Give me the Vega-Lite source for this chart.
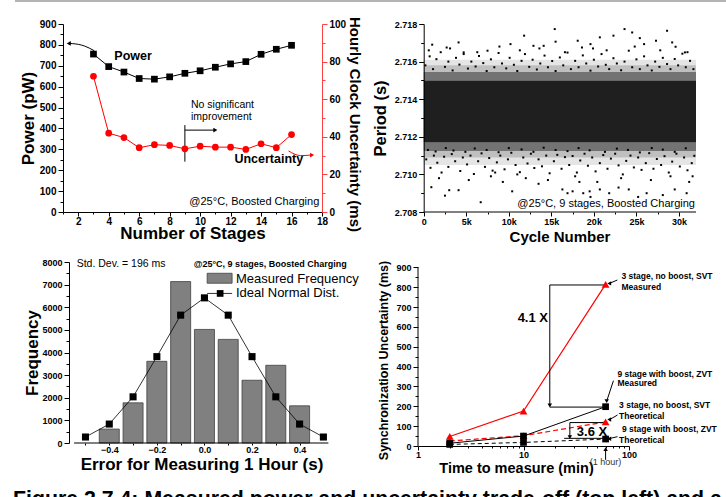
{
"$schema": "https://vega.github.io/schema/vega-lite/v6.json",
"padding": {"left": 13, "top": 0, "right": 0, "bottom": 5},
"columns": 2,
"align": "none",
"bounds": "flush",
"spacing": {"row": 50, "column": 96},
"title": {"text": "Figure 2.7.4: Measured power and uncertainty trade-off (top left) and a", "orient": "bottom", "anchor": "start", "frame": "bounds", "fontSize": 21.3, "fontWeight": "bold", "font": "Liberation Sans", "color": "#000", "offset": 14, "dx": -1},
"datasets": {
"tl_power": [{"x":3,"y":756},{"x":4,"y":696},{"x":5,"y":670},{"x":6,"y":639},{"x":7,"y":636},{"x":8,"y":647},{"x":9,"y":664},{"x":10,"y":676},{"x":11,"y":693},{"x":12,"y":709},{"x":13,"y":720},{"x":14,"y":755},{"x":15,"y":779},{"x":16,"y":798}],
"tl_unc": [{"x":3,"y":72.2},{"x":4,"y":41.9},{"x":5,"y":39.6},{"x":6,"y":34.2},{"x":7,"y":35.8},{"x":8,"y":35.4},{"x":9,"y":33.6},{"x":10,"y":35.0},{"x":11,"y":34.5},{"x":12,"y":34.5},{"x":13,"y":33.3},{"x":14,"y":36.3},{"x":15,"y":34.2},{"x":16,"y":41.2}],
"bl_bars": [{"x":-0.4,"y":616},{"x":-0.3,"y":1776},{"x":-0.2,"y":3611},{"x":-0.1,"y":7134},{"x":0,"y":5020},{"x":0.1,"y":4580},{"x":0.2,"y":2774},{"x":0.3,"y":3435},{"x":0.4,"y":1644}],
"bl_norm": [{"x":-0.5,"y":264},{"x":-0.4,"y":837},{"x":-0.3,"y":2040},{"x":-0.2,"y":3817},{"x":-0.1,"y":5651},{"x":0,"y":6415},{"x":0.1,"y":5651},{"x":0.2,"y":3817},{"x":0.3,"y":2040},{"x":0.4,"y":837},{"x":0.5,"y":264}],
"br_svt_m": [{"x":2,"y":48},{"x":10,"y":176},{"x":60,"y":814}],
"br_svt_t": [{"x":2,"y":25},{"x":10,"y":52},{"x":60,"y":121}],
"br_zvt_m": [{"x":2,"y":14},{"x":10,"y":50},{"x":60,"y":198}],
"br_zvt_t": [{"x":2,"y":8},{"x":10,"y":18},{"x":60,"y":35}],
"tr_pts": [
{"x":900,"y":2.70932},{"x":2500,"y":2.70887},{"x":3000,"y":2.70916},{"x":4100,"y":2.70916},{"x":6700,"y":2.70852},{"x":8400,"y":2.7101},{"x":10400,"y":2.7091},{"x":11000,"y":2.7100},{"x":13500,"y":2.7095},{"x":16300,"y":2.7092},{"x":16900,"y":2.7090},{"x":17500,"y":2.7091},{"x":18300,"y":2.7096},{"x":18750,"y":2.7090},{"x":19500,"y":2.7091},{"x":19600,"y":2.7088},{"x":20700,"y":2.7092},{"x":21800,"y":2.7090},{"x":22900,"y":2.7093},{"x":24100,"y":2.7092},{"x":25200,"y":2.7088},{"x":26200,"y":2.7090},{"x":28100,"y":2.7089},{"x":29500,"y":2.7092},{"x":30900,"y":2.7090},{"x":31600,"y":2.7099},
{"x":1000,"y":2.7169},{"x":2700,"y":2.71675},{"x":4100,"y":2.71702},{"x":4700,"y":2.71649},{"x":7500,"y":2.71658},{"x":10200,"y":2.71693},{"x":11800,"y":2.71738},{"x":12900,"y":2.71684},{"x":14100,"y":2.71684},{"x":15400,"y":2.71773},{"x":15500,"y":2.71706},{"x":18100,"y":2.71711},{"x":18600,"y":2.71675},{"x":19600,"y":2.71693},{"x":20700,"y":2.71729},{"x":22300,"y":2.71738},{"x":23600,"y":2.71773},{"x":24500,"y":2.71755},{"x":25400,"y":2.71725},{"x":25900,"y":2.71693},{"x":27300,"y":2.71711},{"x":28600,"y":2.71764},{"x":29200,"y":2.71702},{"x":29600,"y":2.71679},{"x":30700,"y":2.71649},
{"x":1800,"y":2.7098},{"x":5300,"y":2.7097},{"x":7900,"y":2.7099},{"x":9300,"y":2.7096},{"x":12000,"y":2.7098},{"x":14600,"y":2.7097},{"x":17800,"y":2.7099},{"x":20400,"y":2.7096},{"x":23200,"y":2.7098},{"x":26700,"y":2.7097},{"x":29000,"y":2.7099},{"x":31200,"y":2.7096},
{"x":600,"y":2.7166},{"x":3100,"y":2.7167},{"x":6300,"y":2.7165},{"x":8900,"y":2.7168},{"x":11300,"y":2.7166},{"x":13600,"y":2.7167},{"x":16600,"y":2.7165},{"x":19900,"y":2.7167},{"x":21500,"y":2.7166},{"x":24800,"y":2.7168},{"x":27800,"y":2.7166},{"x":31000,"y":2.7165},
{"x":300,"y":2.7108},{"x":800,"y":2.71035},{"x":1200,"y":2.7110},{"x":1600,"y":2.71062},{"x":2100,"y":2.7101},{"x":2400,"y":2.71094},{"x":2900,"y":2.7104},{"x":3300,"y":2.71108},{"x":3700,"y":2.7107},{"x":4300,"y":2.71018},{"x":4600,"y":2.7109},{"x":5100,"y":2.71053},{"x":5500,"y":2.7110},{"x":5900,"y":2.71002},{"x":6400,"y":2.7107},{"x":6800,"y":2.71112},{"x":7200,"y":2.7104},{"x":7700,"y":2.71087},{"x":8100,"y":2.7102},{"x":8600,"y":2.71064},{"x":9000,"y":2.7110},{"x":9500,"y":2.71027},{"x":9900,"y":2.7108},{"x":10300,"y":2.71115},{"x":10800,"y":2.7105},{"x":11300,"y":2.71012},{"x":11700,"y":2.7109},{"x":12200,"y":2.71058},{"x":12600,"y":2.7111},{"x":13000,"y":2.71034},{"x":13500,"y":2.7108},{"x":13900,"y":2.71043},{"x":14400,"y":2.7110},{"x":14800,"y":2.71006},{"x":15300,"y":2.7107},{"x":15700,"y":2.71104},{"x":16200,"y":2.7103},{"x":16600,"y":2.71092},{"x":17100,"y":2.7105},{"x":17500,"y":2.71098},{"x":18000,"y":2.7101},{"x":18400,"y":2.71074},{"x":18900,"y":2.7111},{"x":19300,"y":2.71046},{"x":19800,"y":2.7109},{"x":20200,"y":2.71016},{"x":20700,"y":2.7106},{"x":21100,"y":2.71103},{"x":21600,"y":2.7103},{"x":22000,"y":2.71084},{"x":22500,"y":2.7111},{"x":22900,"y":2.71048},{"x":23400,"y":2.7100},{"x":23800,"y":2.71072},{"x":24300,"y":2.7110},{"x":24700,"y":2.71037},{"x":25200,"y":2.7109},{"x":25600,"y":2.71024},{"x":26100,"y":2.7106},{"x":26500,"y":2.71113},{"x":27000,"y":2.7103},{"x":27400,"y":2.71082},{"x":27900,"y":2.7105},{"x":28300,"y":2.71097},{"x":28800,"y":2.7101},{"x":29200,"y":2.71068},{"x":29700,"y":2.7111},{"x":30100,"y":2.71042},{"x":30600,"y":2.7109},{"x":31000,"y":2.71022},{"x":31500,"y":2.7106},{"x":31800,"y":2.71099},
{"x":500,"y":2.7113},{"x":1400,"y":2.71122},{"x":2600,"y":2.7114},{"x":3500,"y":2.71127},{"x":4900,"y":2.7112},{"x":6000,"y":2.71138},{"x":7400,"y":2.7113},{"x":8800,"y":2.71118},{"x":10000,"y":2.7114},{"x":11500,"y":2.71133},{"x":12900,"y":2.7112},{"x":14100,"y":2.71142},{"x":15500,"y":2.7113},{"x":16900,"y":2.71124},{"x":18200,"y":2.7114},{"x":19500,"y":2.71128},{"x":21300,"y":2.7112},{"x":22700,"y":2.71137},{"x":24000,"y":2.7113},{"x":25400,"y":2.71117},{"x":26800,"y":2.7114},{"x":28100,"y":2.71132},{"x":29500,"y":2.7112},{"x":30800,"y":2.71139},
{"x":200,"y":2.7158},{"x":700,"y":2.71628},{"x":1100,"y":2.7156},{"x":1500,"y":2.71613},{"x":2000,"y":2.7165},{"x":2500,"y":2.71572},{"x":2900,"y":2.7160},{"x":3400,"y":2.71553},{"x":3800,"y":2.7162},{"x":4200,"y":2.71584},{"x":4700,"y":2.7164},{"x":5200,"y":2.71563},{"x":5600,"y":2.7160},{"x":6100,"y":2.71574},{"x":6500,"y":2.7163},{"x":7000,"y":2.71592},{"x":7400,"y":2.7155},{"x":7900,"y":2.71612},{"x":8300,"y":2.7157},{"x":8800,"y":2.71646},{"x":9200,"y":2.7159},{"x":9700,"y":2.71564},{"x":10100,"y":2.7162},{"x":10600,"y":2.71583},{"x":11000,"y":2.7155},{"x":11500,"y":2.71604},{"x":11900,"y":2.7164},{"x":12400,"y":2.71572},{"x":12800,"y":2.7161},{"x":13300,"y":2.71558},{"x":13700,"y":2.7159},{"x":14200,"y":2.71632},{"x":14600,"y":2.7157},{"x":15100,"y":2.71603},{"x":15500,"y":2.7155},{"x":16000,"y":2.71622},{"x":16400,"y":2.7158},{"x":16900,"y":2.71648},{"x":17300,"y":2.7156},{"x":17800,"y":2.71604},{"x":18200,"y":2.7157},{"x":18700,"y":2.71633},{"x":19100,"y":2.7159},{"x":19600,"y":2.71552},{"x":20000,"y":2.7161},{"x":20500,"y":2.71574},{"x":20900,"y":2.7164},{"x":21400,"y":2.71583},{"x":21800,"y":2.7156},{"x":22300,"y":2.71618},{"x":22700,"y":2.7159},{"x":23200,"y":2.71554},{"x":23600,"y":2.7160},{"x":24100,"y":2.71658},{"x":24500,"y":2.7157},{"x":25000,"y":2.71612},{"x":25400,"y":2.7156},{"x":25900,"y":2.71628},{"x":26300,"y":2.7158},{"x":26800,"y":2.71553},{"x":27200,"y":2.7160},{"x":27700,"y":2.71572},{"x":28100,"y":2.7162},{"x":28600,"y":2.71587},{"x":29000,"y":2.7156},{"x":29500,"y":2.71614},{"x":29900,"y":2.7158},{"x":30400,"y":2.71642},{"x":30800,"y":2.7157},{"x":31300,"y":2.71604},{"x":31700,"y":2.7156}
]
},
"concat": [
{
 "width": 259, "height": 188,
 "layer": [
  {
   "encoding": {
    "x": {"field":"x","type":"quantitative","scale":{"domain":[1,18],"nice":false,"zero":false},"axis":{"title":"Number of Stages","titleFontSize":17,"titlePadding":-1,"labelFontSize":10,"labelPadding":0,"values":[1,2,3,4,5,6,7,8,9,10,11,12,13,14,15,16,17,18],"labelExpr":"datum.value % 2 == 0 ? datum.label : ''","tickSize":{"condition":{"test":"datum.value % 2 == 0","value":4},"value":2}}},
    "y": {"field":"y","type":"quantitative","scale":{"domain":[0,900],"nice":false},"axis":{"title":"Power (pW)","titleFontSize":17,"titlePadding":2,"labelFontSize":10,"values":[0,50,100,150,200,250,300,350,400,450,500,550,600,650,700,750,800,850,900],"labelExpr":"datum.value % 100 == 0 ? datum.label : ''","tickSize":{"condition":{"test":"datum.value % 100 == 0","value":5},"value":3}}}
   },
   "layer": [
    {"data":{"values":[{"x":-2.15,"x2":44.58,"y":1010}]},"mark":{"type":"rule","color":"#b4b4b4","strokeWidth":2},"encoding":{"x2":{"field":"x2"}}},
    {"data":{"name":"tl_power"},"mark":{"type":"line","color":"#000","strokeWidth":1}},
    {"data":{"name":"tl_power"},"mark":{"type":"square","color":"#000","size":45,"opacity":1}},
    {"data":{"values":[{"x":3.05,"y":772},{"x":2.4,"y":795},{"x":1.64,"y":806},{"x":1.4,"y":807}]},"mark":{"type":"line","color":"#000","strokeWidth":1,"interpolate":"monotone"}},
    {"data":{"values":[{"x":1.38,"y":807}]},"mark":{"type":"point","shape":"triangle-left","filled":true,"color":"#000","size":22,"opacity":1}},
    {"data":{"values":[{"x":9,"y":416,"x2":9,"y2":241},{"x":9,"y":392,"x2":10.95,"y2":392}]},"mark":{"type":"rule","color":"#000","strokeWidth":1},"encoding":{"x2":{"field":"x2"},"y2":{"field":"y2"}}},
    {"data":{"values":[{"x":11.0,"y":392}]},"mark":{"type":"point","shape":"triangle-right","filled":true,"color":"#000","size":22,"opacity":1}},
    {"data":{"values":[{"x":4.37,"y":747,"t":"Power"},{"x":12.25,"y":252,"t":"Uncertainty"}]},"mark":{"type":"text","align":"left","baseline":"middle","fontSize":12.5,"fontWeight":"bold","color":"#000"},"encoding":{"text":{"field":"t"}}},
    {"data":{"values":[{"x":9.4,"y":512,"t":"No significant"},{"x":9.4,"y":453,"t":"improvement"}]},"mark":{"type":"text","align":"left","baseline":"middle","fontSize":10.5,"color":"#000"},"encoding":{"text":{"field":"t"}}},
    {"data":{"values":[{"x":17.82,"y":49,"t":"@25°C, Boosted Charging"}]},"mark":{"type":"text","align":"right","baseline":"middle","fontSize":11,"color":"#000"},"encoding":{"text":{"field":"t"}}}
   ]
  },
  {
   "encoding": {
    "x": {"field":"x","type":"quantitative","scale":{"domain":[1,18],"nice":false,"zero":false},"axis":{"title":"Number of Stages","titleFontSize":17,"titlePadding":-1,"labelFontSize":10,"labelPadding":0,"values":[1,2,3,4,5,6,7,8,9,10,11,12,13,14,15,16,17,18],"labelExpr":"datum.value % 2 == 0 ? datum.label : ''","tickSize":{"condition":{"test":"datum.value % 2 == 0","value":4},"value":2}}},
    "y": {"field":"y","type":"quantitative","scale":{"domain":[0,100],"nice":false},"axis":{"orient":"right","title":"Hourly Clock Uncertainty (ms)","titleFontSize":15,"titlePadding":1,"titleY":100,"labelFontSize":10,"values":[0,10,20,30,40,50,60,70,80,90,100],"labelExpr":"datum.value % 20 == 0 ? datum.label : ''","tickSize":{"condition":{"test":"datum.value % 20 == 0","value":5},"value":3},"domainColor":"#ff4040","tickColor":"#ff4040"}}
   },
   "layer": [
    {"data":{"name":"tl_unc"},"mark":{"type":"line","color":"#ff0000","strokeWidth":1}},
    {"data":{"name":"tl_unc"},"mark":{"type":"circle","color":"#ff0000","size":45,"opacity":1}},
    {"data":{"values":[{"x":15.8,"y":32.5},{"x":16.6,"y":30.0},{"x":17.3,"y":30.3}]},"mark":{"type":"line","color":"#ff0000","strokeWidth":1,"interpolate":"monotone"}},
    {"data":{"values":[{"x":17.35,"y":30.3}]},"mark":{"type":"point","shape":"triangle-right","filled":true,"color":"#ff0000","size":22,"opacity":1}}
   ]
  }
 ],
 "resolve": {"scale": {"y": "independent"}}
},
{
 "width": 278, "height": 188,
 "encoding": {
  "x": {"field":"x","type":"quantitative","scale":{"domain":[-668,32000],"nice":false,"zero":false},"axis":{"title":"Cycle Number","titleFontSize":15,"titlePadding":3,"titleX":141.5,"labelFontSize":9,"labelPadding":1,"domain":false,"values":[0,2500,5000,7500,10000,12500,15000,17500,20000,22500,25000,27500,30000],"labelExpr":"datum.value % 5000 == 0 ? (datum.value == 0 ? '0' : datum.value/1000 + 'k') : ''","tickSize":{"condition":{"test":"datum.value % 5000 == 0","value":4},"value":2}}},
  "y": {"field":"y","type":"quantitative","scale":{"domain":[2.708,2.718],"nice":false,"zero":false},"axis":{"title":"Period (s)","titleFontSize":16.5,"titlePadding":6,"labelFontSize":9,"offset":-5.7,"format":".3f","values":[2.708,2.709,2.71,2.711,2.712,2.713,2.714,2.715,2.716,2.717,2.718],"labelExpr":"round(datum.value*1000) % 2 == 0 ? datum.label : ''","tickSize":{"condition":{"test":"round(datum.value*1000) % 2 == 0","value":5},"value":3}}}
 },
 "layer": [
  {"data":{"values":[{"x":0,"x2":32000,"y":2.7105,"y2":2.7109,"d":0.1},{"x":0,"x2":32000,"y":2.7109,"y2":2.71125,"d":0.25},{"x":0,"x2":32000,"y":2.71125,"y2":2.7117,"d":0.55},{"x":0,"x2":32000,"y":2.7117,"y2":2.715,"d":0.88},{"x":0,"x2":32000,"y":2.715,"y2":2.71545,"d":0.55},{"x":0,"x2":32000,"y":2.71545,"y2":2.7158,"d":0.25},{"x":0,"x2":32000,"y":2.7158,"y2":2.7161,"d":0.1}]},"mark":{"type":"rect","color":"#000"},"encoding":{"x2":{"field":"x2"},"y2":{"field":"y2"},"opacity":{"field":"d","type":"quantitative","scale":{"domain":[0,1],"range":[0,1]},"legend":null}}},
  {"data":{"name":"tr_pts"},"mark":{"type":"square","size":4,"color":"#000","opacity":1}},
  {"data":{"values":[{"x":0,"x2":32000,"y":2.708}]},"mark":{"type":"rule","color":"#000","strokeWidth":1},"encoding":{"x2":{"field":"x2"}}},
  {"data":{"values":[{"x":31880,"y":2.70843,"t":"@25°C, 9 stages, Boosted Charging"}]},"mark":{"type":"text","align":"right","baseline":"middle","fontSize":11,"color":"#000"},"encoding":{"text":{"field":"t"}}}
 ]
},
{
 "width": 248, "height": 181,
 "encoding": {
  "x": {"field":"x","type":"quantitative","scale":{"domain":[-0.5735,0.4269],"nice":false,"zero":false},"axis":{"title":"Error for Measuring 1 Hour (s)","titleFontSize":17,"titlePadding":2,"titleX":138.5,"labelFontSize":9,"labelPadding":0,"domain":false,"tickSize":2,"values":[-0.5,-0.4,-0.3,-0.2,-0.1,0,0.1,0.2,0.3,0.4],"format":".1f","labelExpr":"abs(round(datum.value*10)) % 2 == 0 ? datum.label : ''"}},
  "y": {"field":"y","type":"quantitative","scale":{"domain":[0,8000],"nice":false},"axis":{"title":"Frequency","titleFontSize":17,"titlePadding":0,"labelFontSize":9,"offset":-6,"format":"d","values":[0,500,1000,1500,2000,2500,3000,3500,4000,4500,5000,5500,6000,6500,7000,7500,8000],"labelExpr":"datum.value % 1000 == 0 ? datum.label : ''","tickSize":{"condition":{"test":"datum.value % 1000 == 0","value":5},"value":3}}}
 },
 "layer": [
  {"data":{"name":"bl_bars"},"mark":{"type":"bar","orient":"vertical","size":20,"fill":"#808080","stroke":"#404040","strokeWidth":0.8}},
  {"data":{"name":"bl_norm"},"mark":{"type":"line","color":"#000","strokeWidth":0.8}},
  {"data":{"name":"bl_norm"},"mark":{"type":"square","color":"#000","size":50,"opacity":1}},
  {"data":{"values":[{"x":-0.548,"x2":0.521,"y":0}]},"mark":{"type":"rule","color":"#000","strokeWidth":1},"encoding":{"x2":{"field":"x2"}}},
  {"data":{"values":[{"x":0.0114,"x2":0.1163,"y":7502,"y2":7061}]},"mark":{"type":"rect","fill":"#808080","stroke":"#404040","strokeWidth":0.8},"encoding":{"x2":{"field":"x2"},"y2":{"field":"y2"}}},
  {"data":{"values":[{"x":0.0114,"y":6610},{"x":0.1163,"y":6610}]},"mark":{"type":"line","color":"#000","strokeWidth":0.8}},
  {"data":{"values":[{"x":0.066,"y":6610}]},"mark":{"type":"square","color":"#000","size":45,"opacity":1}},
  {"data":{"values":[{"x":0.1324,"y":7237,"t":"Measured Frequency"},{"x":0.1324,"y":6610,"t":"Ideal Normal Dist."}]},"mark":{"type":"text","align":"left","baseline":"middle","fontSize":13,"color":"#000"},"encoding":{"text":{"field":"t"}}},
  {"data":{"values":[{"x":-0.537,"y":7901,"t":"Std. Dev. = 196 ms"}]},"mark":{"type":"text","align":"left","baseline":"middle","fontSize":10.5,"color":"#000"},"encoding":{"text":{"field":"t"}}},
  {"data":{"values":[{"x":-0.045,"y":7901,"t":"@25°C, 9 stages, Boosted Charging"}]},"mark":{"type":"text","align":"left","baseline":"middle","fontSize":9,"fontWeight":"bold","color":"#000"},"encoding":{"text":{"field":"t"}}}
 ]
},
{
 "width": 211, "height": 184,
 "encoding": {
  "x": {"field":"x","type":"quantitative","scale":{"type":"log","domain":[1,100],"nice":false},"axis":{"title":"Time to measure (min)","titleFontSize":14.5,"titlePadding":2,"titleX":98,"labelFontSize":9,"labelPadding":0,"format":"d","values":[1,2,3,4,5,6,7,8,9,10,20,30,40,50,60,70,80,90,100],"labelExpr":"(datum.value == 1 || datum.value == 10 || datum.value == 100) ? datum.label : ''","tickSize":{"condition":{"test":"datum.value == 1 || datum.value == 10 || datum.value == 100","value":4},"value":2}}},
  "y": {"field":"y","type":"quantitative","scale":{"domain":[0,926.7],"nice":false},"axis":{"title":"Synchronization Uncertainty (ms)","titleFontSize":12.5,"titlePadding":5,"titleY":98,"labelFontSize":9,"domain":false,"values":[0,50,100,150,200,250,300,350,400,450,500,550,600,650,700,750,800,850,900],"labelExpr":"datum.value % 100 == 0 ? datum.label : ''","tickSize":{"condition":{"test":"datum.value % 100 == 0","value":5},"value":3}}}
 },
 "layer": [
  {"data":{"values":[{"x":1,"y":0,"y2":900}]},"mark":{"type":"rule","color":"#000","strokeWidth":1},"encoding":{"y2":{"field":"y2"}}},
  {"data":{"name":"br_svt_m"},"mark":{"type":"line","color":"#ff0000","strokeWidth":1.2}},
  {"data":{"name":"br_svt_t"},"mark":{"type":"line","color":"#ff0000","strokeWidth":1.2,"strokeDash":[5,3]}},
  {"data":{"name":"br_zvt_m"},"mark":{"type":"line","color":"#000","strokeWidth":1}},
  {"data":{"name":"br_zvt_t"},"mark":{"type":"line","color":"#000","strokeWidth":1,"strokeDash":[4,3]}},
  {"data":{"values":[{"x":17.75,"y":811,"x2":60,"y2":811},{"x":17.75,"y":811,"x2":17.75,"y2":208},{"x":17.75,"y":196,"x2":60,"y2":196},{"x":27.5,"y":118,"x2":60,"y2":118},{"x":24.3,"y":38.6,"x2":60,"y2":38.6},{"x":27.5,"y":118,"x2":27.5,"y2":48},{"x":60,"y":-70,"x2":60,"y2":-20},{"x":77.6,"y":836,"x2":66,"y2":820},{"x":71.2,"y":329,"x2":62,"y2":232},{"x":77.8,"y":156,"x2":66,"y2":134},{"x":77.8,"y":47,"x2":66,"y2":38}]},"mark":{"type":"rule","color":"#000","strokeWidth":1},"encoding":{"x2":{"field":"x2"},"y2":{"field":"y2"}}},
  {"data":{"values":[{"x":17.75,"y":204},{"x":27.5,"y":45},{"x":61.5,"y":226}]},"mark":{"type":"point","shape":"triangle-down","filled":true,"color":"#000","size":20,"opacity":1}},
  {"data":{"values":[{"x":60,"y":-16}]},"mark":{"type":"point","shape":"triangle-up","filled":true,"color":"#000","size":20,"opacity":1}},
  {"data":{"values":[{"x":65,"y":819},{"x":65,"y":133},{"x":65,"y":37}]},"mark":{"type":"point","shape":"triangle-left","filled":true,"color":"#000","size":20,"opacity":1}},
  {"data":{"name":"br_svt_m"},"mark":{"type":"point","shape":"triangle-up","filled":true,"color":"#ff0000","size":60,"opacity":1}},
  {"data":{"name":"br_svt_t"},"mark":{"type":"point","shape":"triangle-up","filled":true,"color":"#ff0000","size":60,"opacity":1}},
  {"data":{"name":"br_zvt_m"},"mark":{"type":"square","color":"#000","size":45,"opacity":1}},
  {"data":{"name":"br_zvt_t"},"mark":{"type":"square","color":"#000","size":45,"opacity":1}},
  {"data":{"values":[{"x":84.7,"y":856,"t":"3 stage, no boost, SVT"},{"x":84.7,"y":802,"t":"Measured"},{"x":77.6,"y":363,"t":"9 stage with boost, ZVT"},{"x":77.6,"y":316,"t":"Measured"},{"x":80.5,"y":205,"t":"3 stage, no boost, SVT"},{"x":80.5,"y":153,"t":"Theoretical"},{"x":85.6,"y":86,"t":"9 stage with boost, ZVT"},{"x":80.5,"y":30,"t":"Theoretical"}]},"mark":{"type":"text","align":"left","baseline":"middle","fontSize":8.5,"fontWeight":"bold","color":"#000"},"encoding":{"text":{"field":"t"}}},
  {"data":{"values":[{"x":8.8,"y":646,"t":"4.1 X"},{"x":32,"y":72,"t":"3.6 X"}]},"mark":{"type":"text","align":"left","baseline":"middle","fontSize":13,"fontWeight":"bold","color":"#000"},"encoding":{"text":{"field":"t"}}},
  {"data":{"values":[{"x":60,"y":-80,"t":"(1 hour)"}]},"mark":{"type":"text","align":"center","baseline":"middle","fontSize":9,"color":"#333"},"encoding":{"text":{"field":"t"}}}
 ]
}
],
"config": {
 "background": "white",
 "view": {"stroke": null},
 "font": "Liberation Sans",
 "axis": {"grid": false, "labelFont": "Liberation Sans", "titleFont": "Liberation Sans", "labelFontWeight": "bold", "titleFontWeight": "bold", "labelColor": "#000", "titleColor": "#000", "domainColor": "#000", "tickColor": "#000", "labelFlush": false, "labelOverlap": false, "labelPadding": 2, "domainWidth": 1, "tickWidth": 1}
}
}
